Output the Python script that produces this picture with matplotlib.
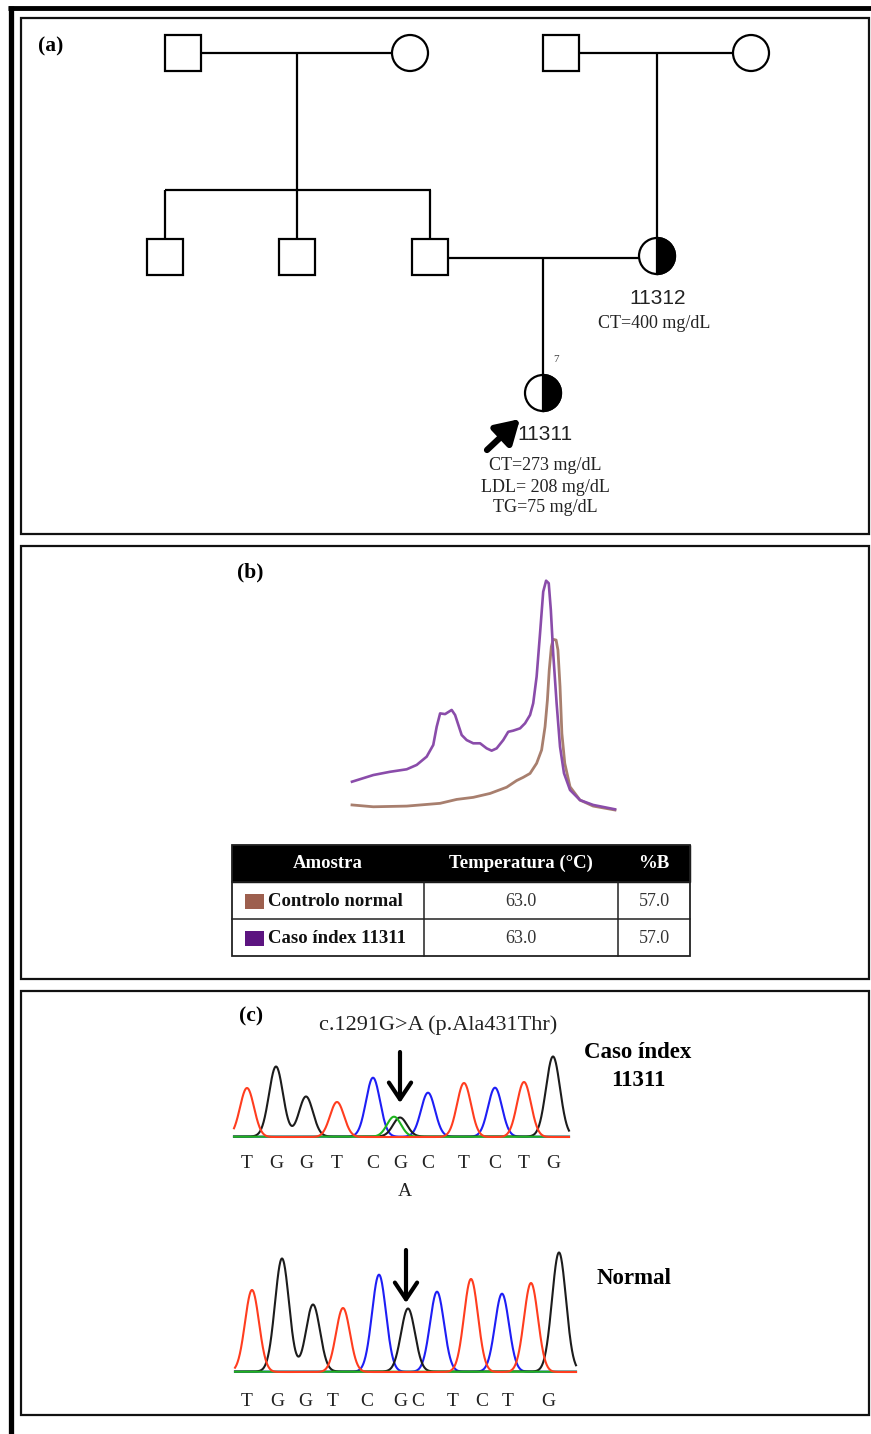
import numpy as np
import matplotlib
matplotlib.use('Agg')
import matplotlib.pyplot as plt
from matplotlib.patches import Rectangle, Circle, Wedge

W, H = 871, 1434
SERIF = ['Liberation Serif', 'DejaVu Serif']
SANS = ['Liberation Sans', 'DejaVu Sans']

# ---------------- data ----------------
# (b) HRM curves (temperature, signal %)
case_temp = [60.0, 60.81, 61.44, 62.08, 62.46, 62.84, 63.09, 63.22, 63.35, 63.54, 63.79,
             63.92, 64.17, 64.36, 64.61, 64.87, 65.12, 65.31, 65.50, 65.75, 65.94, 66.13,
             66.39, 66.58, 66.77, 66.89, 67.02, 67.15, 67.27, 67.38, 67.48, 67.56, 67.65,
             67.78, 67.91, 68.06, 68.29, 68.67, 69.17, 70.0]
case_val = [12.3, 15.2, 16.6, 17.7, 19.6, 23.2, 28.3, 36.2, 42.0, 41.7, 43.5,
            41.3, 32.6, 30.4, 29.0, 29.0, 26.8, 25.8, 26.8, 30.4, 34.0, 34.5,
            35.5, 37.7, 41.3, 46.4, 58.0, 76.8, 94.9, 99.7, 98.6, 87.0, 68.1,
            46.4, 27.5, 16.0, 8.7, 4.3, 2.2, 0.3]
ctrl_temp = [60.0, 60.81, 62.08, 63.35, 63.98, 64.61, 65.25, 65.88, 66.26, 66.51, 66.77,
             67.02, 67.21, 67.34, 67.43, 67.50, 67.58, 67.65, 67.76, 67.83, 67.91, 67.98,
             68.09, 68.29, 68.67, 69.17, 70.0]
ctrl_val = [2.2, 1.4, 1.7, 2.9, 4.6, 5.5, 7.2, 9.9, 12.8, 14.2, 15.9,
            20.3, 26.1, 36.2, 47.8, 60.9, 71.0, 74.2, 73.9, 69.6, 53.6, 33.3,
            20.3, 10.1, 4.3, 1.7, 0.0]

table_header = ['Amostra', 'Temperatura (°C)', '%B']
table_samples = ['Controlo normal', 'Caso índex 11311']
table_temp = ['63.0', '63.0']
table_pctB = ['57.0', '57.0']

# (c) chromatogram peaks
seq_bases = ['T', 'G', 'G', 'T', 'C', 'G', 'C', 'T', 'C', 'T', 'G']
case_pos = [13, 42, 72, 103, 139, 166, 194, 230, 261, 290, 319]
case_height = [49, 70, 40, 35, 59, 19, 44, 54, 49, 55, 80]
case_extra_base = ['A']
case_extra_pos = [160]
case_extra_height = [20]
normal_pos = [17, 47, 78, 108, 144, 173, 202, 236, 267, 296, 324]
normal_height = [82, 113, 67, 64, 97, 63, 80, 93, 78, 89, 119]

base_colors = {'T': '#FF3D1F', 'G': '#1C1C1C', 'C': '#1E1EF5', 'A': '#1FB31F'}

# ---------------- figure ----------------
fig = plt.figure(figsize=(W / 100, H / 100), dpi=100)
ax = fig.add_axes([0, 0, 1, 1])
ax.set_xlim(0, W)
ax.set_ylim(H, 0)
ax.axis('off')


def px_axes(x0, y0, x1, y1):
    a = fig.add_axes([x0 / W, 1 - y1 / H, (x1 - x0) / W, (y1 - y0) / H])
    a.axis('off')
    return a


# outer thick frame (top and left)
ax.plot([8, 871], [8, 8], color='black', lw=3.5, solid_capstyle='butt')
ax.plot([10.5, 10.5], [6, 1434], color='black', lw=3.8, solid_capstyle='butt')

# panel boxes
for (y0, y1) in [(18, 534), (546, 979), (991, 1415)]:
    ax.add_patch(Rectangle((21, y0), 848, y1 - y0, fill=False, ec='#111111', lw=1.6))

# ---------------- (a) pedigree ----------------
ax.text(51, 46, '(a)', fontsize=15.5, fontweight='bold', family=SERIF, ha='center', va='center')
LW = 1.6


def square(cx, cy, s=36):
    ax.add_patch(Rectangle((cx - s / 2, cy - s / 2), s, s, fill=True, fc='white', ec='black', lw=LW, zorder=3))


def circle(cx, cy, r=18, half=False):
    ax.add_patch(Circle((cx, cy), r, fc='white', ec='black', lw=LW, zorder=3))
    if half:
        ax.add_patch(Wedge((cx, cy), r, -90, 90, fc='black', ec='black', lw=LW, zorder=4))
        ax.plot([cx, cx], [cy - r, cy + r], color='black', lw=1.0, zorder=5)


def line(xs, ys):
    ax.plot(xs, ys, color='black', lw=LW, zorder=2, solid_capstyle='butt')


# generation I left couple
line([183, 410], [53, 53])
line([297, 297], [53, 190])
line([165, 431], [190, 190])
for x in [165, 297, 430]:
    line([x, x], [190, 257])
square(183, 53)
circle(410, 53)
# generation I right couple
line([561, 751], [53, 53])
line([657, 657], [53, 255])
square(561, 53)
circle(751, 53)
# generation II
line([430, 657], [258, 258])
line([543, 543], [258, 393])
for x in [165, 297, 430]:
    square(x, 257)
circle(657, 256, half=True)
circle(543, 393, half=True)
ax.text(556, 360, '7', fontsize=8, family=SERIF, color='#444444', ha='center', va='center')

ax.annotate('', xy=(520, 419), xytext=(487, 450),
            arrowprops=dict(arrowstyle='-|>,head_length=1.0,head_width=0.6', lw=4.5, color='black',
                            mutation_scale=14, shrinkA=0, shrinkB=0))
ax.text(545, 434, '11311', fontsize=15, family=SANS, color='#222222', ha='center', va='center')
for txt, y in [('CT=273 mg/dL', 466), ('LDL= 208 mg/dL', 487), ('TG=75 mg/dL', 508)]:
    ax.text(545, y, txt, fontsize=13, family=SERIF, color='#222222', ha='center', va='center')
ax.text(658, 298, '11312', fontsize=15, family=SANS, color='#222222', ha='center', va='center')
ax.text(654, 323, 'CT=400 mg/dL', fontsize=13, family=SERIF, color='#222222', ha='center', va='center')

# ---------------- (b) HRM ----------------
ax.text(250, 572, '(b)', fontsize=15.5, fontweight='bold', family=SERIF, ha='center', va='center')
axm = px_axes(352, 580, 615, 810)
axm.set_xlim(60, 70)
axm.set_ylim(0, 100)
axm.plot(ctrl_temp, ctrl_val, color='#A87F6E', lw=2.0, clip_on=False, solid_joinstyle='round')
axm.plot(case_temp, case_val, color='#8A4CAA', lw=1.9, clip_on=False, solid_joinstyle='round')

# table
tx = [232, 424, 618, 690]
ty = [845, 882, 919, 956]
ax.add_patch(Rectangle((tx[0], ty[0]), tx[3] - tx[0], ty[1] - ty[0], fc='black', ec='black', lw=1))
ax.add_patch(Rectangle((tx[0], ty[0]), tx[3] - tx[0], ty[3] - ty[0], fill=False, ec='#222222', lw=1.3))
for yy in ty[1:3]:
    ax.plot([tx[0], tx[3]], [yy, yy], color='#222222', lw=1.1)
for xx in tx[1:3]:
    ax.plot([xx, xx], [ty[1], ty[3]], color='#222222', lw=1.1)
hy = (ty[0] + ty[1]) / 2
for i, h in enumerate(table_header):
    ax.text((tx[i] + tx[i + 1]) / 2, hy, h, fontsize=13.5, fontweight='bold', family=SERIF,
            color='white', ha='center', va='center')
sw_colors = ['#9D5F4E', '#5C1480']
for r in range(2):
    cy = (ty[r + 1] + ty[r + 2]) / 2 + 1
    ax.add_patch(Rectangle((245, cy - 8), 19, 15, fc=sw_colors[r], ec='none'))
    ax.text(268, cy, table_samples[r], fontsize=13.5, fontweight='bold', family=SERIF,
            ha='left', va='center', color='#111111')
    ax.text((tx[1] + tx[2]) / 2, cy, table_temp[r], fontsize=13, family=SERIF,
            ha='center', va='center', color='#333333')
    ax.text((tx[2] + tx[3]) / 2, cy, table_pctB[r], fontsize=13, family=SERIF,
            ha='center', va='center', color='#333333')

# ---------------- (c) chromatograms ----------------
ax.text(251, 1016, '(c)', fontsize=15.5, fontweight='bold', family=SERIF, ha='center', va='center')
ax.text(438, 1025, 'c.1291G>A (p.Ala431Thr)', fontsize=16, family=SERIF, color='#222222',
        ha='center', va='center')
ax.text(638, 1052, 'Caso índex', fontsize=16.5, fontweight='bold', family=SERIF, ha='center', va='center')
ax.text(638, 1081, '11311', fontsize=16.5, fontweight='bold', family=SERIF, ha='center', va='center')
ax.text(634, 1279, 'Normal', fontsize=16.5, fontweight='bold', family=SERIF, ha='center', va='center')

SIG = 7.0


def draw_chrom(a, xmax, pos, height, bases, extra_pos=(), extra_h=(), extra_b=()):
    xs = np.linspace(0, xmax, 1200)
    order = ['C', 'G', 'A', 'T']
    offs = {'T': 0.0, 'A': 0.3, 'G': 0.5, 'C': 0.3}
    for b in order:
        y = np.full_like(xs, offs[b])
        for p, h, bb in list(zip(pos, height, bases)) + list(zip(extra_pos, extra_h, extra_b)):
            if bb == b:
                y = y + h * np.exp(-0.5 * ((xs - p) / SIG) ** 2)
        a.plot(xs, y, color=base_colors[b], lw=1.5, clip_on=False)


ax1 = px_axes(234, 1047, 569, 1137)
ax1.set_xlim(0, 335)
ax1.set_ylim(0, 90)
draw_chrom(ax1, 335, case_pos, case_height, seq_bases, case_extra_pos, case_extra_height, case_extra_base)
for p, b in zip(case_pos, seq_bases):
    ax.text(234 + p, 1163, b, fontsize=14, family=SERIF, ha='center', va='center', color='#222222')
ax.text(234 + case_extra_pos[0] + 11, 1192, case_extra_base[0], fontsize=14, family=SERIF,
        ha='center', va='center', color='#222222')
ax.annotate('', xy=(400, 1103), xytext=(400, 1052),
            arrowprops=dict(arrowstyle='->,head_length=0.6,head_width=0.4', lw=3, color='black',
                            mutation_scale=20, shrinkA=0, shrinkB=0))

ax2 = px_axes(235, 1247, 576, 1372)
ax2.set_xlim(0, 341)
ax2.set_ylim(0, 125)
draw_chrom(ax2, 341, normal_pos, normal_height, seq_bases)
label_x2 = [247, 277, 305, 333, 367, 400, 418, 453, 482, 508, 548]
for x, b in zip(label_x2, seq_bases):
    ax.text(x, 1402, b, fontsize=14, family=SERIF, ha='center', va='center', color='#222222')
ax.annotate('', xy=(406, 1303), xytext=(406, 1250),
            arrowprops=dict(arrowstyle='->,head_length=0.6,head_width=0.4', lw=3, color='black',
                            mutation_scale=20, shrinkA=0, shrinkB=0))

fig.savefig('out.png', dpi=100)
